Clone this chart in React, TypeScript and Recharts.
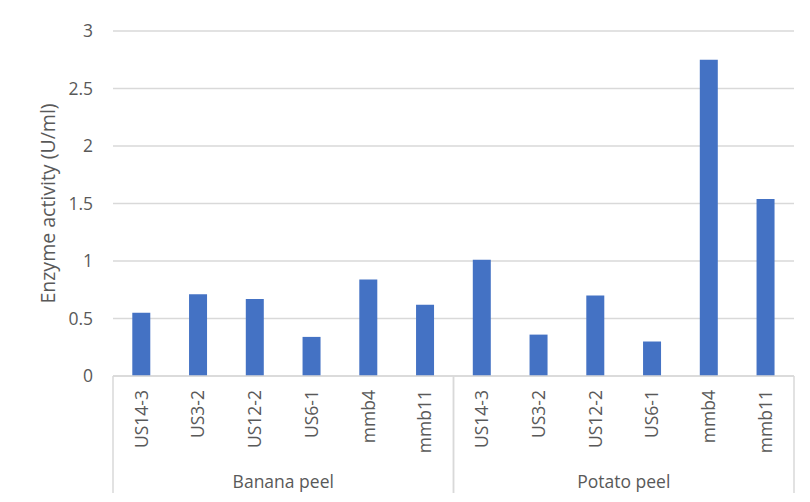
import { Bar, BarChart, CartesianGrid, XAxis, YAxis } from "recharts";

const strains = ["US14-3", "US3-2", "US12-2", "US6-1", "mmb4", "mmb11"];
const groups = ["Banana peel", "Potato peel"];
const bananaPeel = [0.55, 0.71, 0.67, 0.34, 0.84, 0.62];
const potatoPeel = [1.01, 0.36, 0.7, 0.3, 2.75, 1.54];
const yTicks = [0, 0.5, 1, 1.5, 2, 2.5, 3];

const data = [bananaPeel, potatoPeel].flatMap((values, g) =>
  values.map((activity, i) => ({ group: groups[g], strain: strains[i], activity })),
);

const FONT = '"Open Sans", sans-serif';
const TEXT = "#595959";
const LINE = "#d9d9d9";
const STRAIN_AXIS_H = 80;
const GROUP_AXIS_H = 38;

function StrainTick({ x, y, payload }: any) {
  return (
    <text x={x} y={y} transform={`rotate(-90 ${x} ${y})`} textAnchor="end" dy="0.36em" fill={TEXT} fontSize={17.5} fontFamily={FONT}>
      {payload.value}
    </text>
  );
}

function GroupTick({ x, y, payload }: any) {
  const half = payload.offset ?? 0;
  return (
    <g>
      <line x1={x - half} x2={x - half} y1={y - STRAIN_AXIS_H} y2={y + GROUP_AXIS_H - 1} stroke={LINE} strokeWidth={1.5} />
      <line x1={x + half} x2={x + half} y1={y - STRAIN_AXIS_H} y2={y + GROUP_AXIS_H - 1} stroke={LINE} strokeWidth={1.5} />
      <text x={x} y={y + 32} textAnchor="middle" fill={TEXT} fontSize={17.5} fontFamily={FONT}>
        {payload.value}
      </text>
    </g>
  );
}

function YTitle({ viewBox }: any) {
  const cx = viewBox.x + 48;
  const cy = viewBox.y + viewBox.height / 2;
  return (
    <text x={cx} y={cy} transform={`rotate(-90 ${cx} ${cy})`} textAnchor="middle" dy="0.36em" fill={TEXT} fontSize={19.5} fontFamily={FONT}>
      Enzyme activity (U/ml)
    </text>
  );
}

export default function App() {
  return (
    <div style={{ width: 810, height: 502, margin: -8, overflow: "hidden", background: "#fff" }}>
      <BarChart width={810} height={502} data={data} margin={{ top: 31, right: 16, bottom: 8, left: 0 }} barCategoryGap="34%">
        {/* chart-area frame, cut off at the right and bottom like the source */}
        <path d="M5.5 502 V6.5 H810" fill="none" stroke="#d4d4d4" strokeWidth={2} />
        <CartesianGrid vertical={false} stroke={LINE} strokeWidth={1.5} />
        <XAxis dataKey="strain" height={STRAIN_AXIS_H} interval={0} tickLine={false} tickSize={0} tickMargin={14} axisLine={{ stroke: LINE, strokeWidth: 1.5 }} tick={<StrainTick />} />
        <XAxis xAxisId="group" dataKey="group" allowDuplicatedCategory={false} height={GROUP_AXIS_H} interval={0} tickLine={false} tickSize={0} tickMargin={0} axisLine={false} tick={<GroupTick />} />
        <YAxis width={113} domain={[0, 3]} ticks={yTicks} axisLine={false} tickLine={false} tickSize={0} tickMargin={20} tick={{ fill: TEXT, fontSize: 17.5, fontFamily: FONT }} label={<YTitle />} />
        <Bar dataKey="activity" fill="#4472c4" isAnimationActive={false} />
      </BarChart>
    </div>
  );
}
